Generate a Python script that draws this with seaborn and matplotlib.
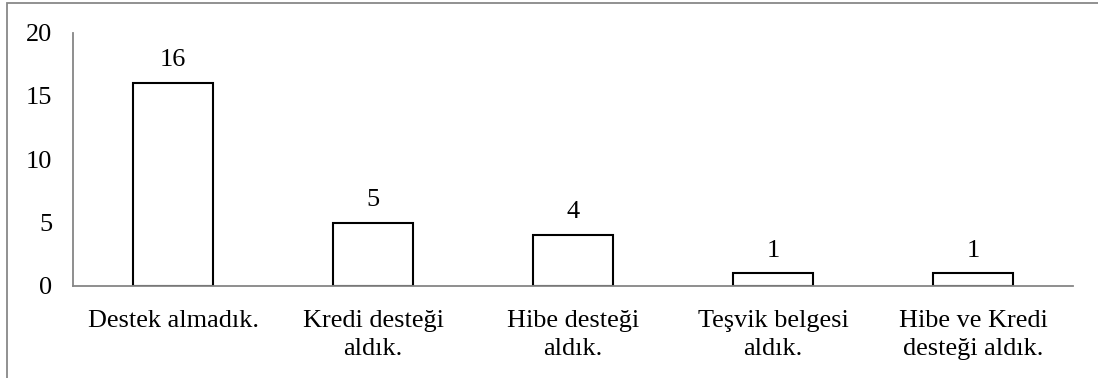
import matplotlib
matplotlib.use("Agg")
import matplotlib.pyplot as plt
import seaborn as sns
import pandas as pd
from matplotlib.patches import Rectangle

categories = ["Destek almadık.", "Kredi desteği\naldık.", "Hibe desteği\naldık.",
              "Teşvik belgesi\naldık.", "Hibe ve Kredi\ndesteği aldık."]
values = [16, 5, 4, 1, 1]
yticks = [0, 5, 10, 15, 20]

sns.set_theme(style="white")
plt.rcParams['font.family'] = ['Liberation Serif', 'DejaVu Serif']

df = pd.DataFrame({"cat": categories, "val": values})

fig = plt.figure(figsize=(10.98, 3.78), dpi=100)
ax = fig.add_axes([73/1098, 1-286/378, 1000/1098, (286-32.5)/378])

sns.barplot(data=df, x="cat", y="val", ax=ax, color="white", edgecolor="black",
            linewidth=1.5, width=0.4, saturation=1)

for c in ax.containers:
    ax.bar_label(c, padding=8.5, fontsize=18.9, color="black")

ax.set_ylim(0, 20)
ax.set_yticks(yticks)
ax.set_xlim(-0.5, len(categories) - 0.5)
ax.set_xlabel("")
ax.set_ylabel("")
ax.tick_params(axis="both", length=0, labelsize=18.9, colors="black")
ax.tick_params(axis="y", pad=15)
ax.tick_params(axis="x", pad=17)
for lab in ax.get_xticklabels():
    lab.set_linespacing(1.38)

for s in ["top", "right"]:
    ax.spines[s].set_visible(False)
for s in ["left", "bottom"]:
    ax.spines[s].set_color("#868686")
    ax.spines[s].set_linewidth(1.3)

fig.patches.append(Rectangle((7/1098, -0.1), 1.2, 1 - 3/378 + 0.1, transform=fig.transFigure,
                             fill=False, edgecolor="#888888", linewidth=1.3))

fig.savefig("out.png", dpi=100)
